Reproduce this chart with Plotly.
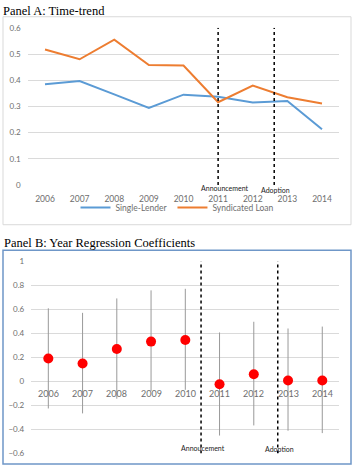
import plotly.graph_objects as go

# ---------------- data ----------------
years = ["2006", "2007", "2008", "2009", "2010", "2011", "2012", "2013", "2014"]
single_lender = [0.385, 0.397, 0.346, 0.294, 0.345, 0.337, 0.315, 0.321, 0.213]
syndicated_loan = [0.517, 0.480, 0.555, 0.458, 0.456, 0.316, 0.380, 0.335, 0.311]

coef = [0.19, 0.149, 0.27, 0.331, 0.344, -0.024, 0.06, 0.008, 0.008]
coef_upper = [0.608, 0.57, 0.69, 0.757, 0.77, 0.407, 0.496, 0.44, 0.456]
coef_lower = [-0.225, -0.266, -0.144, -0.08, -0.07, -0.45, -0.366, -0.41, -0.43]

# event line positions (category index units)
eventsA = [("Announcement", 5.0), ("Adoption", 6.62)]
eventsB = [("Annoucement", 4.46), ("Adoption", 6.70)]

W, H = 355, 471
def px_x(v): return v / W
def px_y(v): return 1 - v / H

TICKFONT = dict(family="Lato", size=8, color="#6e6e6e")
XTICKFONT_A = dict(family="Lato", size=8.5, color="#6e6e6e")
XTICKFONT_B = dict(family="Lato", size=9, color="#6e6e6e")
GRID = "#dadada"

fig = go.Figure()

fig.add_trace(go.Scatter(x=years, y=single_lender, mode="lines", name="Single-Lender",
                         line=dict(color="#5B9BD5", width=2), xaxis="x", yaxis="y"))
fig.add_trace(go.Scatter(x=years, y=syndicated_loan, mode="lines", name="Syndicated Loan",
                         line=dict(color="#ED7D31", width=2), xaxis="x", yaxis="y"))

err_plus = [u - c for u, c in zip(coef_upper, coef)]
err_minus = [c - l for c, l in zip(coef, coef_lower)]
fig.add_trace(go.Scatter(x=years, y=coef, mode="markers", showlegend=False,
                         marker=dict(color="#FF0000", size=10),
                         error_y=dict(type="data", array=err_plus, arrayminus=err_minus,
                                      color="#999999", thickness=1, width=0),
                         xaxis="x2", yaxis="y2"))

fig.update_layout(
    width=W, height=H,
    margin=dict(l=0, r=0, t=0, b=0),
    paper_bgcolor="white", plot_bgcolor="white",
    showlegend=True,
    legend=dict(orientation="h", x=0.5, xanchor="center", y=px_y(207), yanchor="middle",
                font=XTICKFONT_A, itemwidth=30, bgcolor="rgba(0,0,0,0)", tracegroupgap=0),
    xaxis=dict(domain=[px_x(27.7), px_x(339.3)], anchor="y", type="category",
               range=[-0.5, 8.5], showgrid=False, zeroline=False, showline=False,
               ticks="", tickfont=XTICKFONT_A, ticklabelstandoff=7),
    yaxis=dict(domain=[px_y(184), px_y(23.3)], anchor="x", range=[0, 0.6], dtick=0.1,
               tick0=0, showgrid=True, gridcolor=GRID, gridwidth=1, zeroline=False,
               showline=False, ticks="", tickfont=TICKFONT, ticklabelstandoff=6),
    xaxis2=dict(domain=[px_x(31.2), px_x(339.4)], anchor="y2", type="category",
                range=[-0.5, 8.5], showgrid=False, zeroline=False, showline=False,
                ticks="", showticklabels=False),
    yaxis2=dict(domain=[px_y(458.3), px_y(261.7)], anchor="x2", range=[-0.6, 1.0],
                dtick=0.2, tick0=0, showgrid=True, gridcolor=GRID, gridwidth=1,
                zeroline=False, showline=False, ticks="", tickfont=TICKFONT,
                ticklabelstandoff=6),
)

shapes = []
# panel frames
shapes.append(dict(type="rect", xref="paper", yref="paper",
                   x0=px_x(3), x1=px_x(351), y0=px_y(224.5), y1=px_y(12),
                   line=dict(color="#d9d9d9", width=1), layer="below"))
shapes.append(dict(type="rect", xref="paper", yref="paper",
                   x0=px_x(3), x1=px_x(351), y0=px_y(469), y1=px_y(250.5),
                   line=dict(color="#6f97c8", width=1.5), layer="below"))
# event lines
for _, xv in eventsA:
    shapes.append(dict(type="line", xref="x", yref="y", x0=xv, x1=xv, y0=0, y1=0.6,
                       line=dict(color="black", width=1.5, dash="dot")))
for _, xv in eventsB:
    shapes.append(dict(type="line", xref="x2", yref="y2", x0=xv, x1=xv, y0=-0.6, y1=1.0,
                       line=dict(color="black", width=1.5, dash="dot")))
fig.update_layout(shapes=shapes)

ann = []
TITLEFONT = dict(family="Liberation Serif", size=12.5, color="black")
ann.append(dict(text="Panel A: Time-trend", xref="paper", yref="paper", x=px_x(1), y=px_y(6.5),
                xanchor="left", yanchor="middle", showarrow=False, font=TITLEFONT))
ann.append(dict(text="Panel B: Year Regression Coefficients", xref="paper", yref="paper",
                x=px_x(2), y=px_y(243), xanchor="left", yanchor="middle", showarrow=False,
                font=TITLEFONT))
EVFONT = dict(family="Lato", size=7, color="#222222")
ann.append(dict(text=eventsA[0][0], xref="x", yref="paper", x=eventsA[0][1] + 0.2, y=px_y(187),
                xanchor="center", yanchor="middle", showarrow=False, font=EVFONT))
ann.append(dict(text=eventsA[1][0], xref="x", yref="paper", x=eventsA[1][1] + 0.03, y=px_y(189.5),
                xanchor="center", yanchor="middle", showarrow=False, font=EVFONT))
ann.append(dict(text=eventsB[0][0], xref="x2", yref="paper", x=eventsB[0][1] + 0.05, y=px_y(453),
                xanchor="center", yanchor="middle", showarrow=False, font=EVFONT))
ann.append(dict(text=eventsB[1][0], xref="x2", yref="paper", x=eventsB[1][1] + 0.05, y=px_y(454),
                xanchor="center", yanchor="middle", showarrow=False, font=EVFONT))
# Panel B category labels sitting just below the zero line
for i, yr in enumerate(years):
    ann.append(dict(text=yr, xref="x2", yref="y2", x=i, y=0, yanchor="top", yshift=-5,
                    xanchor="center", showarrow=False, font=XTICKFONT_B))
fig.update_layout(annotations=ann)

fig.write_html("out.html")
